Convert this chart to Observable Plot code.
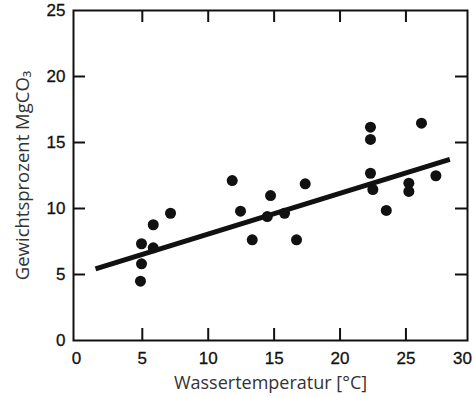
<!DOCTYPE html>
<html>
<head>
<meta charset="utf-8">
<script src="https://cdn.jsdelivr.net/npm/d3@7"></script>
<script src="https://cdn.jsdelivr.net/npm/@observablehq/plot@0.6"></script>
<style>
  html, body { margin: 0; padding: 0; background: #fff; }
  svg { display: block; }
</style>
</head>
<body>
<div id="chart"></div>
<script>
// Data
const tempC = [4.86, 4.94, 4.94, 5.83, 5.83, 7.14, 11.82, 12.45, 13.34, 14.48, 14.73, 15.79, 16.70, 17.36, 22.31, 22.31, 22.31, 22.49, 23.51, 25.22, 25.22, 26.18, 27.27];
const mgco3 = [4.49, 5.81, 7.33, 7.02, 8.77, 9.64, 12.12, 9.80, 7.63, 9.39, 10.98, 9.64, 7.63, 11.87, 16.16, 15.23, 12.67, 11.44, 9.85, 11.92, 11.29, 16.46, 12.48];
const fitX = [1.45, 28.33];
const fitY = [5.43, 13.73];
const xTickLabels = [0, 5, 10, 15, 20, 25];
const xLastLabel = [30];
const yTickLabels = [0, 5, 10, 15, 20, 25];
const xInnerTicks = [5, 10, 15, 20, 25];
const yInnerTicks = [5, 10, 15, 20];
const xTitle = "Wassertemperatur [°C]";
const yTitle = "Gewichtsprozent MgCO₃";

const points = tempC.map((t, i) => ({t, m: mgco3[i]}));
const fit = fitX.map((x, i) => ({x, y: fitY[i]}));

const tickFont = "Liberation Sans, Arial, sans-serif";
const titleFont = "Open Sans, Noto Sans, sans-serif";

const chart = Plot.plot({
  width: 475,
  height: 397,
  marginLeft: 73,
  marginRight: 8,
  marginTop: 10,
  marginBottom: 57,
  style: {background: "#fff", overflow: "visible"},
  x: {domain: [-0.22, 29.67], axis: null},
  y: {domain: [0, 25], axis: null},
  marks: [
    Plot.frame({stroke: "#111", strokeWidth: 2}),
    Plot.tickX(xInnerTicks, {x: d => d, insetTop: 318, stroke: "#111", strokeWidth: 2}),
    Plot.tickX(xInnerTicks, {x: d => d, insetBottom: 318, stroke: "#111", strokeWidth: 2}),
    Plot.tickY(yInnerTicks, {y: d => d, insetRight: 382, stroke: "#111", strokeWidth: 2}),
    Plot.tickY(yInnerTicks, {y: d => d, insetLeft: 382, stroke: "#111", strokeWidth: 2}),
    Plot.text(xTickLabels, {x: d => d, frameAnchor: "bottom", dy: 18, lineAnchor: "middle", text: d => String(d), fontSize: 17, fontFamily: tickFont, fill: "#111", stroke: "#111", strokeWidth: 0.3}),
    Plot.text(xLastLabel, {x: d => d, frameAnchor: "bottom", dy: 18, lineAnchor: "middle", textAnchor: "end", text: d => String(d), fontSize: 17, fontFamily: tickFont, fill: "#111", stroke: "#111", strokeWidth: 0.3}),
    Plot.text(yTickLabels, {y: d => d, frameAnchor: "left", dx: -8, textAnchor: "end", lineAnchor: "middle", text: d => String(d), fontSize: 17, fontFamily: tickFont, fill: "#111", stroke: "#111", strokeWidth: 0.3}),
    Plot.line(fit, {x: "x", y: "y", stroke: "#111", strokeWidth: 5, strokeLinecap: "butt"}),
    Plot.dot(points, {x: "t", y: "m", r: 5.5, fill: "#111", stroke: "none"}),
    Plot.text([xTitle], {frameAnchor: "bottom", dy: 43, lineAnchor: "middle", textAnchor: "middle", text: d => d, fontSize: 18, fontFamily: titleFont, fill: "#333"}),
    Plot.text([yTitle], {frameAnchor: "left", dx: -50, rotate: -90, lineAnchor: "middle", textAnchor: "middle", text: d => d, fontSize: 18.5, fontFamily: titleFont, fill: "#333"})
  ]
});
document.getElementById("chart").appendChild(chart);
</script>
</body>
</html>
